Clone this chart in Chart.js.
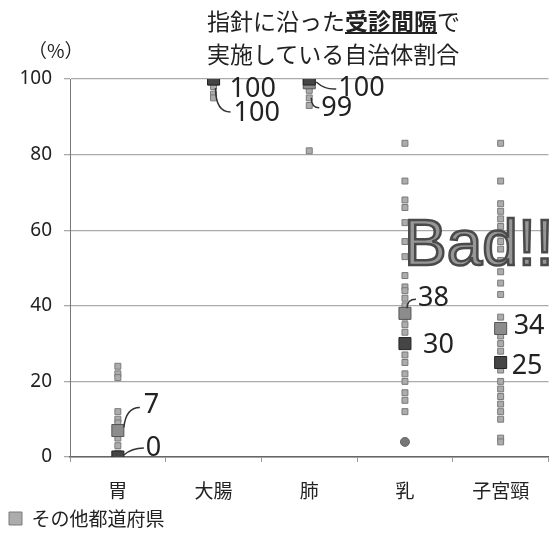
<!DOCTYPE html>
<html>
<head>
<meta charset="utf-8">
<script src="https://cdn.jsdelivr.net/npm/chart.js@4"></script>
<style>
  body { margin: 0; background: #fff; }
  #wrap { position: relative; width: 558px; height: 535px; overflow: hidden; }
  #chart { position: absolute; left: 0; top: 0; }
  .title { position: absolute; left: 207px; top: 4px; font: 23px "Noto Sans CJK JP"; line-height: 33px; color: #222; white-space: nowrap; }
  .title b { text-decoration: underline; text-underline-offset: 2px; text-decoration-thickness: 2px; }
  .unit { position: absolute; left: 28px; top: 36px; font: 19px "Noto Sans CJK JP"; color: #222; }
  .bad { position: absolute; left: 404px; top: 211px; font: 64px "Liberation Sans"; line-height: 64px; color: rgba(140,140,140,0.9); -webkit-text-stroke: 2.5px #4a4a4a; white-space: nowrap; }
</style>
</head>
<body>
<div id="wrap">
  <canvas id="chart" width="558" height="535"></canvas>
  <div class="title">指針に沿った<b>受診間隔</b>で<br>実施している自治体割合</div>
  <div class="unit">（%）</div>
  <div class="bad">Bad!!</div>
</div>
<script>
// カテゴリ
const categories = ['胃', '大腸', '肺', '乳', '子宮頸'];

// その他都道府県 (%)
const stomachOthers = [24, 22, 21, 12, 10, 9, 5, 3, 1];
const colonOthers = [99, 98, 96, 95];
const lungOthers = [98, 97, 95, 93, 81];
const breastOthers = [83, 73, 68, 66, 62, 57, 53, 48, 45, 44, 42, 40, 37, 35, 33, 27, 25, 22, 20, 17, 15, 12];
const cervixOthers = [83, 73, 67, 65, 63, 61, 59, 57, 55, 52, 49, 46, 43, 37, 32, 30, 28, 23, 20, 18, 16, 14, 12, 10, 5, 4];
const breastCircle = [4];

// ラベル付きの2系列
const markedGray = [7, 100, 99, 38, 34];
const markedDark = [0, 100, 100, 30, 25];

const yTicks = [0, 20, 40, 60, 80, 100];

// ラベル位置 (マーカーからのずれ、引き出し線)
const grayLabelPos = [
  { dx: 26, dy: -25, line: [6, -3, 22, -23, 8, -23] },
  { dx: 20, dy: 34, line: [2, 9, 17, 33, 2, 33] },
  { dx: 12, dy: 26, line: [2, 15, 10, 25, 2, 25] },
  { dx: 13, dy: -15, line: [2, -5, 11, -14, 2, -14] },
  { dx: 13, dy: -2, line: null }
];
const darkLabelPos = [
  { dx: 28, dy: -9, line: [6, -2, 26, -9, 14, -9] },
  { dx: 16, dy: 10, line: null },
  { dx: 29, dy: 9, line: [7, 3, 27, 10, 16, 11] },
  { dx: 18, dy: 2, line: null },
  { dx: 11, dy: 4, line: null }
];

function toPoints(cat, values) {
  return values.map(v => ({ x: cat, y: v }));
}

const othersData = [].concat(
  toPoints('胃', stomachOthers),
  toPoints('大腸', colonOthers),
  toPoints('肺', lungOthers),
  toPoints('乳', breastOthers),
  toPoints('子宮頸', cervixOthers)
);

const valueLabels = {
  id: 'valueLabels',
  afterDatasetsDraw(chart) {
    const ctx = chart.ctx;
    ctx.save();
    ctx.font = '27px "Noto Sans"';
    ctx.fillStyle = '#222';
    ctx.strokeStyle = '#333';
    ctx.lineWidth = 1.5;
    ctx.textBaseline = 'middle';
    [[0, markedDark, darkLabelPos], [1, markedGray, grayLabelPos]].forEach(([di, vals, pos]) => {
      const meta = chart.getDatasetMeta(di);
      meta.data.forEach((pt, i) => {
        const p = pos[i];
        if (p.line) {
          const l = p.line;
          ctx.beginPath();
          ctx.moveTo(pt.x + l[0], pt.y + l[1]);
          ctx.quadraticCurveTo(pt.x + l[4], pt.y + l[5], pt.x + l[2], pt.y + l[3]);
          ctx.stroke();
        }
        ctx.fillText(String(vals[i]), pt.x + p.dx, pt.y + p.dy);
      });
    });
    ctx.restore();
  }
};

const ctx = document.getElementById('chart').getContext('2d');
new Chart(ctx, {
  type: 'line',
  data: {
    labels: categories,
    datasets: [
      {
        label: 'dark',
        data: categories.map((c, i) => ({ x: c, y: markedDark[i] })),
        showLine: false,
        pointStyle: 'rect',
        pointRadius: 8.5,
        backgroundColor: '#454545',
        borderColor: '#222',
        borderWidth: 1
      },
      {
        label: 'gray',
        data: categories.map((c, i) => ({ x: c, y: markedGray[i] })),
        showLine: false,
        pointStyle: 'rect',
        pointRadius: 8.5,
        backgroundColor: '#8c8c8c',
        borderColor: '#555',
        borderWidth: 1
      },
      {
        label: 'circle',
        data: toPoints('乳', breastCircle),
        showLine: false,
        pointStyle: 'circle',
        pointRadius: 4.5,
        backgroundColor: '#777',
        borderColor: '#666',
        borderWidth: 1
      },
      {
        label: 'その他都道府県',
        data: othersData,
        showLine: false,
        pointStyle: 'rect',
        pointRadius: 4.2,
        backgroundColor: '#acacac',
        borderColor: '#7a7a7a',
        borderWidth: 1
      }
    ]
  },
  options: {
    responsive: false,
    animation: false,
    layout: { padding: { top: 79, right: 3, left: 7, bottom: -3 } },
    plugins: {
      tooltip: { enabled: false },
      legend: {
        position: 'bottom',
        align: 'start',
        labels: {
          filter: item => item.text === 'その他都道府県',
          usePointStyle: true,
          pointStyle: 'rect',
          boxWidth: 13,
          boxHeight: 13,
          padding: 2,
          color: '#222',
          font: { family: '"Noto Sans CJK JP"', size: 19 }
        }
      }
    },
    scales: {
      x: {
        offset: true,
        grid: { display: true, offset: true, drawOnChartArea: false, drawTicks: true, tickLength: 5, color: '#999' },
        border: { display: true, color: '#666', width: 1.5 },
        ticks: { color: '#222', padding: 17, font: { family: '"Noto Sans CJK JP"', size: 19 } },
        afterFit(scale) { scale.height = 50; }
      },
      y: {
        min: 0,
        max: 100,
        afterBuildTicks(scale) { scale.ticks = yTicks.map(v => ({ value: v })); },
        grid: { color: '#aaa', lineWidth: 1.3, tickLength: 6 },
        border: { display: true, color: '#777' },
        ticks: { color: '#222', padding: 12, font: { family: '"Noto Sans"', size: 19 } },
        afterFit(scale) { scale.width = 63; }
      }
    }
  },
  plugins: [valueLabels]
});
</script>
</body>
</html>
